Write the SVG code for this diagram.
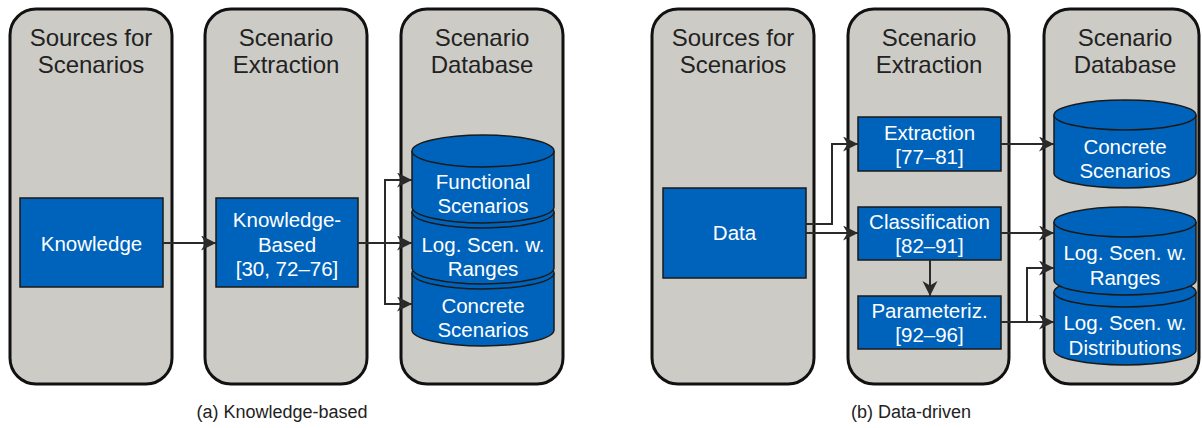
<svg xmlns="http://www.w3.org/2000/svg" width="1202" height="428" viewBox="0 0 1202 428">
  <defs>
    <style>
      .col { fill: #cccbc5; stroke: #111; stroke-width: 3; }
      .title { font-family: "Liberation Sans", Arial, sans-serif; font-size: 24px; fill: #222; text-anchor: middle; }
      .box { fill: #0063bb; stroke: #1a1a1a; stroke-width: 1.5; }
      .lbl { font-family: "Liberation Sans", Arial, sans-serif; font-size: 20.5px; fill: #fff; text-anchor: middle; }
      .cyl { fill: #0063bb; stroke: #1a1a1a; stroke-width: 1.5; }
      .wire { fill: none; stroke: #2a2a2a; stroke-width: 2; }
      .cap { font-family: "Liberation Sans", Arial, sans-serif; font-size: 18px; fill: #222; text-anchor: middle; }
    </style>
    <marker id="arr" markerUnits="userSpaceOnUse" markerWidth="17" markerHeight="16" refX="15" refY="7.5" orient="auto">
      <path d="M0,0 L15,7.5 L0,15 L4.5,7.5 Z" fill="#2a2a2a"/>
    </marker>
  </defs>

  <!-- (a) knowledge-based pipeline -->
  <g id="a-sources">
    <rect class="col" x="10" y="9" width="162" height="375" rx="26"/>
    <text class="title" x="91" y="46">Sources for</text>
    <text class="title" x="91" y="73">Scenarios</text>
  </g>
  <g id="a-extraction">
    <rect class="col" x="205" y="9" width="162" height="375" rx="26"/>
    <text class="title" x="286" y="46">Scenario</text>
    <text class="title" x="286" y="73">Extraction</text>
  </g>
  <g id="a-database">
    <rect class="col" x="401" y="9" width="162" height="375" rx="26"/>
    <text class="title" x="482" y="46">Scenario</text>
    <text class="title" x="482" y="73">Database</text>
  </g>

  <g id="a-knowledge">
    <rect class="box" x="20" y="198" width="143" height="89"/>
    <text class="lbl" x="91.5" y="251">Knowledge</text>
  </g>
  <g id="a-knowledge-based">
    <rect class="box" x="216" y="198" width="142" height="89"/>
    <text class="lbl" x="287" y="227">Knowledge-</text>
    <text class="lbl" x="287" y="252">Based</text>
    <text class="lbl" x="287" y="276">[30, 72–76]</text>
  </g>

  <!-- stacked stores: lower ones first so the upper bottoms overlap them -->
  <g id="a-concrete">
    <path class="cyl" d="M412,273 V330 A71,16 0 0 0 554,330 V273"/>
    <ellipse class="cyl" cx="483" cy="273" rx="71" ry="16"/>
    <text class="lbl" x="483" y="313">Concrete</text>
    <text class="lbl" x="483" y="337">Scenarios</text>
  </g>
  <g id="a-ranges">
    <path class="cyl" d="M412,212 V268 A71,16 0 0 0 554,268 V212"/>
    <ellipse class="cyl" cx="483" cy="212" rx="71" ry="16"/>
    <text class="lbl" x="483" y="252">Log. Scen. w.</text>
    <text class="lbl" x="483" y="276">Ranges</text>
  </g>
  <g id="a-functional">
    <path class="cyl" d="M412,151 V207 A71,16 0 0 0 554,207 V151"/>
    <ellipse class="cyl" cx="483" cy="151" rx="71" ry="16"/>
    <text class="lbl" x="483" y="189">Functional</text>
    <text class="lbl" x="483" y="213">Scenarios</text>
  </g>

  <!-- (b) data-driven pipeline -->
  <g id="b-sources">
    <rect class="col" x="652" y="9" width="162" height="375" rx="26"/>
    <text class="title" x="733" y="46">Sources for</text>
    <text class="title" x="733" y="73">Scenarios</text>
  </g>
  <g id="b-extraction">
    <rect class="col" x="848" y="9" width="161" height="375" rx="26"/>
    <text class="title" x="929" y="46">Scenario</text>
    <text class="title" x="929" y="73">Extraction</text>
  </g>
  <g id="b-database">
    <rect class="col" x="1044" y="9" width="155" height="375" rx="26"/>
    <text class="title" x="1125" y="46">Scenario</text>
    <text class="title" x="1125" y="73">Database</text>
  </g>

  <g id="b-data">
    <rect class="box" x="663" y="188" width="143" height="90"/>
    <text class="lbl" x="734.5" y="240">Data</text>
  </g>
  <g id="b-extract">
    <rect class="box" x="858" y="117" width="143" height="54"/>
    <text class="lbl" x="929.5" y="140">Extraction</text>
    <text class="lbl" x="929.5" y="164">[77–81]</text>
  </g>
  <g id="b-classification">
    <rect class="box" x="858" y="207" width="143" height="53"/>
    <text class="lbl" x="929.5" y="229">Classification</text>
    <text class="lbl" x="929.5" y="253">[82–91]</text>
  </g>
  <g id="b-parameterization">
    <rect class="box" x="858" y="296" width="143" height="53"/>
    <text class="lbl" x="929.5" y="318">Parameteriz.</text>
    <text class="lbl" x="929.5" y="342">[92–96]</text>
  </g>

  <g id="b-concrete">
    <path class="cyl" d="M1054,115 V173 A71,15 0 0 0 1196,173 V115"/>
    <ellipse class="cyl" cx="1125" cy="115" rx="71" ry="15"/>
    <text class="lbl" x="1125" y="154">Concrete</text>
    <text class="lbl" x="1125" y="178">Scenarios</text>
  </g>
  <g id="b-distributions">
    <path class="cyl" d="M1054,292 V350 A71,15 0 0 0 1196,350 V292"/>
    <ellipse class="cyl" cx="1125" cy="292" rx="71" ry="15"/>
    <text class="lbl" x="1125" y="330">Log. Scen. w.</text>
    <text class="lbl" x="1125" y="355">Distributions</text>
  </g>
  <g id="b-ranges">
    <path class="cyl" d="M1054,222 V280 A71,15 0 0 0 1196,280 V222"/>
    <ellipse class="cyl" cx="1125" cy="222" rx="71" ry="15"/>
    <text class="lbl" x="1125" y="260">Log. Scen. w.</text>
    <text class="lbl" x="1125" y="285">Ranges</text>
  </g>

  <!-- connectors -->
  <g id="connectors">
    <path class="wire" marker-end="url(#arr)" d="M163,243 H216"/>
    <path class="wire" marker-end="url(#arr)" d="M358,243 H412"/>
    <path class="wire" marker-end="url(#arr)" d="M385,243 V180 H412"/>
    <path class="wire" marker-end="url(#arr)" d="M385,243 V304 H412"/>

    <path class="wire" marker-end="url(#arr)" d="M806,224 H832 V144 H858"/>
    <path class="wire" marker-end="url(#arr)" d="M806,233 H858"/>
    <path class="wire" marker-end="url(#arr)" d="M930,260 V296"/>
    <path class="wire" marker-end="url(#arr)" d="M1001,144 H1054"/>
    <path class="wire" marker-end="url(#arr)" d="M1001,233 H1054"/>
    <path class="wire" marker-end="url(#arr)" d="M1001,322 H1054"/>
    <path class="wire" marker-end="url(#arr)" d="M1027,322 V268 H1054"/>
  </g>

  <!-- sub-figure captions -->
  <text class="cap" x="282" y="418">(a) Knowledge-based</text>
  <text class="cap" x="911" y="418">(b) Data-driven</text>
</svg>
